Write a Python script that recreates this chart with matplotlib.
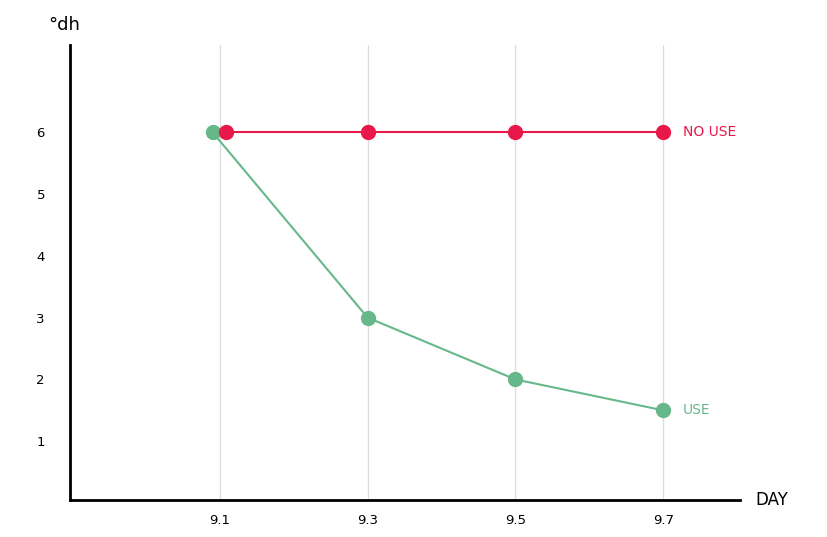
import matplotlib
matplotlib.use("Agg")
import matplotlib.pyplot as plt

days = [9.1, 9.3, 9.5, 9.7]
tick_labels = ["9.1", "9.3", "9.5", "9.7"]
use_x = [9.09, 9.3, 9.5, 9.7]
use_vals = [6, 3, 2, 1.5]
nouse_x = [9.108, 9.3, 9.5, 9.7]
nouse_vals = [6, 6, 6, 6]
yticks = [1, 2, 3, 4, 5, 6]

red = "#e8194a"
green = "#66b88a"

fig = plt.figure(figsize=(8.27, 5.37), dpi=100)
ax = fig.add_axes([0.0846, 0.069, 0.8102, 0.847])
ax.set_xlim(8.897, 9.804)
ax.set_ylim(0.05, 7.41)

for d in days:
    ax.axvline(d, color="#dddddd", lw=0.9, zorder=0)

ax.plot(use_x, use_vals, color=green, lw=1.5, marker="o", ms=10, zorder=3)
ax.plot(nouse_x, nouse_vals, color=red, lw=1.5, marker="o", ms=10, zorder=4)

ax.text(9.727, nouse_vals[-1], "NO USE", color=red, fontsize=10, va="center")
ax.text(9.727, use_vals[-1], "USE", color=green, fontsize=10, va="center")

ax.set_xticks(days)
ax.set_xticklabels(tick_labels, fontsize=9.5)
ax.set_yticks(yticks)
ax.set_yticklabels([str(v) for v in yticks], fontsize=9.5)
ax.tick_params(length=0, pad=10)
ax.tick_params(axis="y", pad=18)
for s in ["top", "right"]:
    ax.spines[s].set_visible(False)
for s in ["left", "bottom"]:
    ax.spines[s].set_linewidth(2)
    ax.spines[s].set_color("black")

fig.text(48/827, 1-25/537, "°dh", fontsize=13, va="center", ha="left")
fig.text(755/827, 1-500/537, "DAY", fontsize=12, va="center", ha="left")

fig.savefig("out.png", dpi=100)
